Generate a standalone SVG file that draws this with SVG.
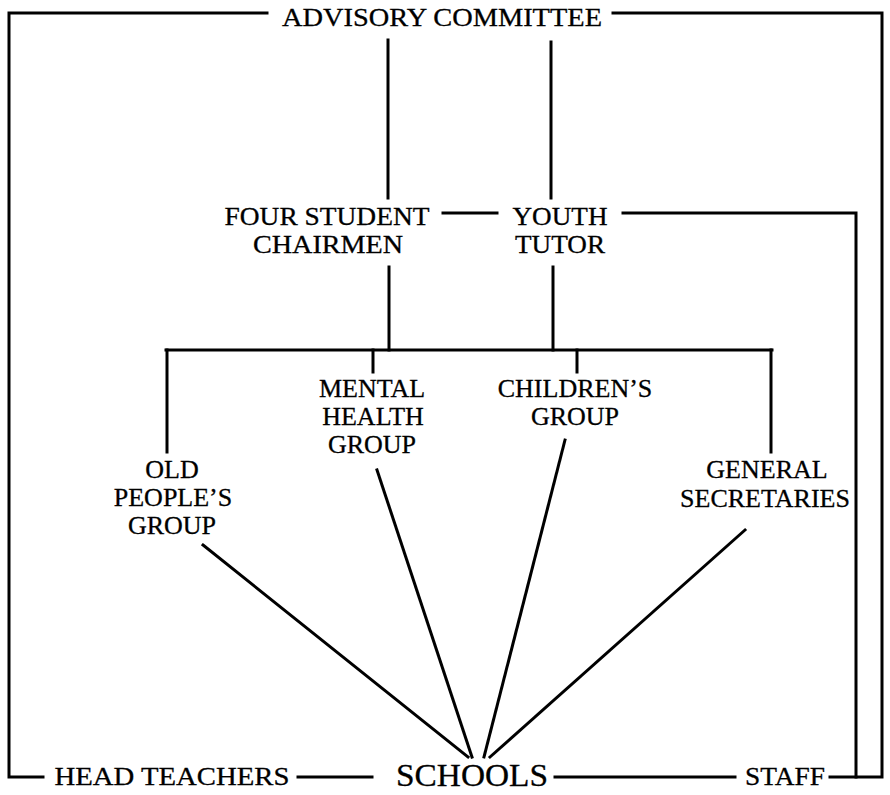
<svg xmlns="http://www.w3.org/2000/svg" width="890" height="795" viewBox="0 0 890 795">
<style>
.t{font-family:"Liberation Serif","Times New Roman",serif;font-size:26px;fill:#000;stroke:#000;stroke-width:0.3;text-anchor:middle}
.big{font-size:32px}
.c line,.c polyline{stroke:#000;stroke-width:3;fill:none;stroke-linecap:square}
</style>
<rect width="890" height="795" fill="#fff"/>
<g class="c" id="connectors">
<polyline points="267,13 9,13 9,777 43,777"/>
<polyline points="613,13 882,13 882,777 830,777"/>
<line x1="388" y1="40" x2="388" y2="198"/>
<line x1="551" y1="42" x2="551" y2="198"/>
<line x1="443" y1="213" x2="497" y2="213"/>
<polyline points="623,213 856,213 856,777"/>
<line x1="389" y1="267" x2="389" y2="350"/>
<line x1="553" y1="267" x2="553" y2="350"/>
<line x1="166" y1="350" x2="772" y2="350"/>
<line x1="167" y1="350" x2="167" y2="452"/>
<line x1="373" y1="350" x2="373" y2="372"/>
<line x1="577" y1="350" x2="577" y2="372"/>
<line x1="771" y1="350" x2="771" y2="452"/>
<line x1="203" y1="545" x2="468" y2="757"/>
<line x1="377" y1="470" x2="472" y2="757"/>
<line x1="565" y1="440" x2="484" y2="757"/>
<line x1="745" y1="530" x2="490" y2="757"/>
<line x1="298" y1="777" x2="372" y2="777"/>
<line x1="555" y1="777" x2="735" y2="777"/>
</g>
<g id="advisory"><text class="t" x="442" y="26" textLength="320" lengthAdjust="spacingAndGlyphs">ADVISORY COMMITTEE</text></g>
<g id="students"><text class="t" x="327" y="225" textLength="205" lengthAdjust="spacingAndGlyphs">FOUR STUDENT</text><text class="t" x="328" y="253" textLength="150" lengthAdjust="spacingAndGlyphs">CHAIRMEN</text></g>
<g id="youth"><text class="t" x="560" y="225" textLength="95" lengthAdjust="spacingAndGlyphs">YOUTH</text><text class="t" x="560" y="253" textLength="90" lengthAdjust="spacingAndGlyphs">TUTOR</text></g>
<g id="old"><text class="t" x="172" y="478">OLD</text><text class="t" x="173" y="506">PEOPLE’S</text><text class="t" x="172" y="534">GROUP</text></g>
<g id="mental"><text class="t" x="372" y="397">MENTAL</text><text class="t" x="373" y="425">HEALTH</text><text class="t" x="372" y="453">GROUP</text></g>
<g id="children"><text class="t" x="575" y="397">CHILDREN’S</text><text class="t" x="575" y="425">GROUP</text></g>
<g id="general"><text class="t" x="767" y="478">GENERAL</text><text class="t" x="765" y="507">SECRETARIES</text></g>
<g id="head"><text class="t" x="172" y="785" textLength="235" lengthAdjust="spacingAndGlyphs">HEAD TEACHERS</text></g>
<g id="schools"><text class="t big" x="472" y="786" textLength="152" lengthAdjust="spacingAndGlyphs">SCHOOLS</text></g>
<g id="staff"><text class="t" x="785" y="785" textLength="80" lengthAdjust="spacingAndGlyphs">STAFF</text></g>
</svg>
